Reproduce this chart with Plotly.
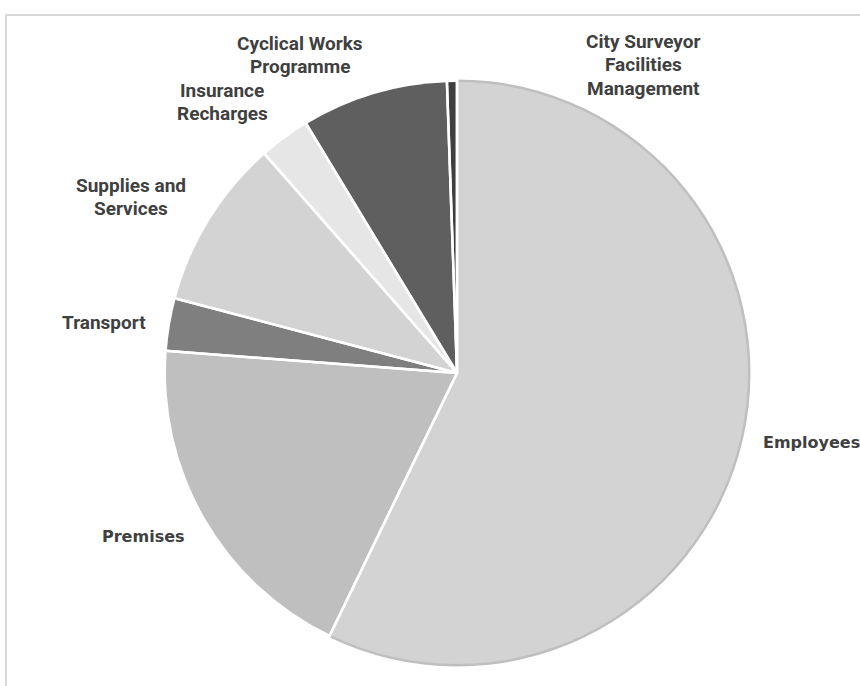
import plotly.graph_objects as go

# ---- data ----
categories = ["Employees", "Premises", "Transport", "Supplies and Services",
              "Insurance Recharges", "Cyclical Works Programme",
              "City Surveyor Facilities Management"]
values = [57.1, 19.0, 2.9, 9.4, 2.8, 8.1, 0.55]
colors = ["#d3d3d3", "#bfbfbf", "#7f7f7f", "#d3d3d3", "#e6e6e6", "#5f5f5f", "#3f3f3f"]

# label lines and centre positions in pixels (layout only)
label_lines = [["Employees"], ["Premises"], ["Transport"], ["Supplies and", "Services"],
               ["Insurance", "Recharges"], ["Cyclical Works", "Programme"],
               ["City Surveyor", "Facilities", "Management"]]
label_px = [(811, 442), (143, 536), (104, 322), (131, 197), (222, 102), (300, 55), (643, 64.5)]
wide_font = "DejaVu Sans"
narrow_font = "Roboto"
label_font = [wide_font, wide_font, narrow_font, narrow_font, narrow_font, narrow_font, narrow_font]
label_size = [16, 16, 19, 19, 19, 19, 19]
line_gap = 23.5

W, H = 860, 686
cx, cy, r = 457, 373, 291

def dom(rad):
    return dict(x=[(cx - rad) / W, (cx + rad) / W], y=[1 - (cy + rad) / H, 1 - (cy - rad) / H])

common = dict(values=values, labels=categories, sort=False, direction="clockwise",
              rotation=0, textinfo="none", showlegend=False)

fig = go.Figure()
# darker outer rim of the Employees slice
rim_colors = ["#bfbfbf"] + ["rgba(0,0,0,0)"] * (len(values) - 1)
fig.add_trace(go.Pie(**common, marker=dict(colors=rim_colors, line=dict(width=0)),
                     hoverinfo="skip", domain=dom(r + 2.5)))
# main slices
fig.add_trace(go.Pie(**common, marker=dict(colors=colors, line=dict(width=0)),
                     domain=dom(r)))
# white separators between slices (outer arc falls on the white background)
fig.add_trace(go.Pie(**common, marker=dict(colors=["rgba(0,0,0,0)"] * len(values),
                                           line=dict(color="white", width=2.5)),
                     hoverinfo="skip", domain=dom(r + 8)))

annotations = []
for lines, (px, py), fnt, sz in zip(label_lines, label_px, label_font, label_size):
    n = len(lines)
    for i, ln in enumerate(lines):
        yy = py + (i - (n - 1) / 2) * line_gap
        annotations.append(dict(text="<b>" + ln + "</b>", x=px / W, y=1 - yy / H, xref="paper", yref="paper",
                                showarrow=False, xanchor="center", yanchor="middle", align="center",
                                font=dict(family=fnt, size=sz, color="#404040")))

fig.update_layout(
    width=W, height=H, margin=dict(l=0, r=0, t=0, b=0),
    paper_bgcolor="white", plot_bgcolor="white",
    annotations=annotations,
    shapes=[dict(type="rect", xref="paper", yref="paper", x0=6 / W, x1=1.02, y0=-0.02, y1=1 - 15 / H,
                 line=dict(color="#d9d9d9", width=2), fillcolor="rgba(0,0,0,0)", layer="below")],
)
fig.write_html("out.html")
